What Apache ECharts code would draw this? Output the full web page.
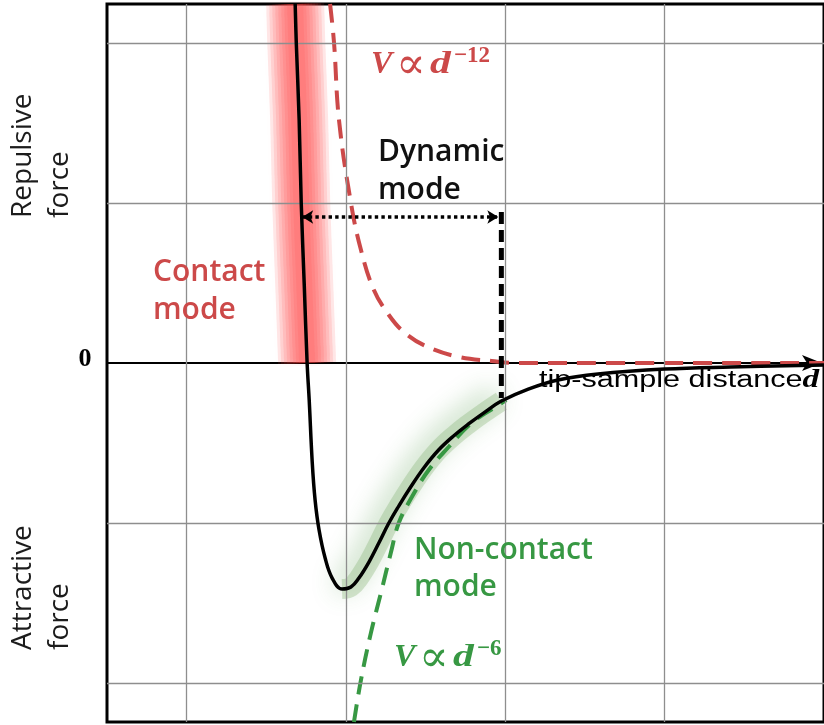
<!DOCTYPE html>
<html>
<head>
<meta charset="utf-8">
<script src="https://cdn.jsdelivr.net/npm/echarts@6/dist/echarts.min.js"></script>
<style>
  html, body { margin: 0; padding: 0; background: #fff; }
  #chart { width: 824px; height: 725px; }
</style>
</head>
<body>
<div id="chart"></div>
<script>
// Tip–sample force vs. distance d (one grid step = one unit of d / F)

// Net (Lennard-Jones type) force
const totalForce = [
  [1.681, 2.244], [1.688, 2.0], [1.706, 1.519], [1.719, 1.0], [1.738, 0.488],
  [1.756, 0], [1.769, -0.231], [1.788, -0.619], [1.806, -0.856], [1.831, -1.044],
  [1.869, -1.219], [1.913, -1.344], [1.975, -1.413], [2.031, -1.4], [2.081, -1.344],
  [2.144, -1.244], [2.206, -1.125], [2.269, -1.0], [2.331, -0.894], [2.406, -0.775],
  [2.488, -0.656], [2.581, -0.544], [2.675, -0.456], [2.769, -0.381], [2.863, -0.313],
  [2.975, -0.238], [3.144, -0.163], [3.331, -0.106], [3.581, -0.069], [4.0, -0.038],
  [4.413, -0.025], [5.0, -0.013]
];

// Repulsive part, V ∝ d^-12
const repulsiveForce = [
  [1.9, 2.244], [1.925, 2.0], [1.956, 1.519], [2.031, 1.0], [2.094, 0.706],
  [2.175, 0.456], [2.269, 0.3], [2.363, 0.194], [2.5, 0.106], [2.706, 0.038],
  [2.913, 0.013], [3.081, 0], [5.0, 0]
];

// Attractive part, V ∝ d^-6
const attractiveForce = [
  [2.05, -2.244], [2.094, -1.981], [2.156, -1.688], [2.219, -1.438], [2.281, -1.188],
  [2.331, -1.0], [2.413, -0.838], [2.519, -0.669], [2.644, -0.525], [2.788, -0.375],
  [2.956, -0.263], [3.006, -0.231]
];

// Grid lines
const gridDistances = [1, 2, 3, 4];
const gridForces = [2, 1, -1, -2];

// Axis extents
const distanceRange = [0.5, 5.0];
const forceRange = [-2.24375, 2.24375];

// Dynamic-mode working range
const dynamicRange = [1.725, 2.956];
const dynamicLevel = 0.9125;
const dynamicLimit = [[2.975, 0.944], [2.975, -0.219]];

// Axis tick labels
const forceTickLabels = ['0'];
const forceSideLabels = ['Repulsive\nforce', 'Attractive\nforce'];
const distanceLabel = 'tip-sample distance';

const ink = '#1c1c1c';
const red = '#cc4949';
const green = '#379843';
const sans = '"Open Sans", "Noto Sans", sans-serif';
const serif = '"Liberation Serif", "DejaVu Serif", serif';

// Repulsive branch of the net force (down to the zero crossing)
const contactZone = totalForce.slice(0, totalForce.findIndex(p => p[1] < -0.05));
// Attractive well up to the dynamic-mode limit
const nonContactZone = totalForce.filter(p => p[0] >= 1.97 && p[0] <= 2.98);

const chart = echarts.init(document.getElementById('chart'), null, { renderer: 'canvas' });

// "V ∝ d⁻ⁿ" set piece by piece: italic V, proportional sign, italic d, raised exponent
function powerLaw(x, y, color, exponent) {
  const italic = { fontFamily: serif, fontStyle: 'italic', fontWeight: 'bold', fontSize: 32, fill: color, verticalAlign: 'middle', align: 'left' };
  return [
    { type: 'text', x: x, y: y, z: 10, style: Object.assign({ text: 'V' }, italic) },
    { type: 'text', x: x + 40, y: y + 2, z: 10,
      style: { text: '∝', fontFamily: '"DejaVu Serif", serif', fontSize: 44, fill: color, align: 'center', verticalAlign: 'middle' } },
    { type: 'text', x: x + 59, y: y, scaleX: 1.3, z: 10, style: Object.assign({ text: 'd' }, italic) },
    { type: 'text', x: x + 83, y: y - 9, z: 10,
      style: { text: exponent, fontFamily: serif, fontWeight: 'bold', fontSize: 23, fill: color, align: 'left', verticalAlign: 'middle' } }
  ];
}

// Soft halo: stacked translucent strokes of shrinking width
function halo(name, data, widths, rgb, alpha, blur) {
  return widths.map((w, i) => ({
    name: name + ' ' + i, type: 'line', data: data, smooth: 0.4, symbol: 'none', z: 2, silent: true,
    lineStyle: { width: w, color: 'rgba(' + rgb + ',' + alpha + ')', shadowBlur: blur, shadowColor: 'rgba(' + rgb + ',' + alpha + ')', cap: 'butt' }
  }));
}

chart.setOption({
  animation: false,
  backgroundColor: '#ffffff',
  grid: {
    left: 107, right: -3, top: 4, bottom: 3,
    show: true, borderColor: '#000', borderWidth: 3, backgroundColor: 'transparent'
  },
  xAxis: {
    type: 'value',
    min: distanceRange[0], max: distanceRange[1],
    axisLine: {
      show: true, onZero: true,
      lineStyle: { color: '#000', width: 2 },
      symbol: ['none', 'arrow'], symbolSize: [12, 20], symbolOffset: [0, -2]
    },
    axisTick: { show: false }, axisLabel: { show: false }, splitLine: { show: false }
  },
  yAxis: {
    type: 'value',
    min: forceRange[0], max: forceRange[1],
    axisLine: { show: false }, axisTick: { show: false },
    axisLabel: { show: false }, splitLine: { show: false }
  },
  series: [
    {
      name: 'grid', type: 'line', data: [], z: 1, silent: true,
      markLine: {
        silent: true, symbol: 'none', label: { show: false },
        lineStyle: { color: '#8e8e8e', width: 1.3, type: 'solid' },
        emphasis: { disabled: true },
        data: gridDistances.map(v => ({ xAxis: v })).concat(gridForces.map(v => ({ yAxis: v })))
      }
    },
    ...halo('contact glow', contactZone, [58, 52, 46, 40, 34, 28, 22, 16], '255,75,75', 0.12, 8),
    {
      name: 'non-contact glow', type: 'line', data: nonContactZone, smooth: 0.4, symbol: 'none', z: 2, silent: true,
      lineStyle: { width: 20, color: 'rgba(120,170,100,0.3)', shadowBlur: 26, shadowColor: 'rgba(60,140,50,0.95)', shadowOffsetX: -5, shadowOffsetY: -6 }
    },
    {
      name: 'repulsive', type: 'line', data: repulsiveForce, smooth: 0.4, symbol: 'none', z: 4, silent: true,
      lineStyle: { width: 4, color: red, type: [19, 10] }
    },
    {
      name: 'attractive', type: 'line', data: attractiveForce, smooth: 0.4, symbol: 'none', z: 4, silent: true,
      lineStyle: { width: 4, color: green, type: [18, 10] }
    },
    {
      name: 'total', type: 'line', data: totalForce, smooth: 0.4, symbol: 'none', z: 5, silent: true,
      lineStyle: { width: 3.5, color: '#000' }
    },
    {
      name: 'dynamic', type: 'line', data: dynamicLimit, symbol: 'none', z: 6, silent: true,
      lineStyle: { width: 5, color: '#000', type: [12, 6] },
      markLine: {
        silent: true, symbol: ['arrow', 'arrow'], symbolSize: [10, 11], label: { show: false },
        emphasis: { disabled: true },
        lineStyle: { color: '#000', width: 3.5, type: [3.4, 3.2] },
        data: [[{ coord: [dynamicRange[0], dynamicLevel] }, { coord: [dynamicRange[1], dynamicLevel] }]]
      }
    }
  ],
  graphic: [
    { type: 'text', x: 42, y: 218, rotation: Math.PI / 2, z: 10,
      style: { text: forceSideLabels[0], fontFamily: sans, fontSize: 28, fill: ink, align: 'left', verticalAlign: 'middle', lineHeight: 37 } },
    { type: 'text', x: 42, y: 650, rotation: Math.PI / 2, z: 10,
      style: { text: forceSideLabels[1], fontFamily: sans, fontSize: 28, fill: ink, align: 'left', verticalAlign: 'middle', lineHeight: 37 } },
    { type: 'text', x: 85, y: 359, z: 10,
      style: { text: forceTickLabels[0], fontFamily: serif, fontWeight: 'bold', fontSize: 26, fill: '#000', align: 'center', verticalAlign: 'middle' } },
    { type: 'text', x: 378, y: 171, z: 10,
      style: { text: 'Dynamic\nmode', fontFamily: sans, fontWeight: 600, fontSize: 30, fill: '#111', align: 'left', verticalAlign: 'middle', lineHeight: 38 } },
    { type: 'text', x: 153, y: 291, z: 10,
      style: { text: 'Contact\nmode', fontFamily: sans, fontWeight: 600, fontSize: 30, fill: red, align: 'left', verticalAlign: 'middle', lineHeight: 38 } },
    { type: 'text', x: 414, y: 569, z: 10,
      style: { text: 'Non-contact\nmode', fontFamily: sans, fontWeight: 600, fontSize: 30, fill: green, align: 'left', verticalAlign: 'middle', lineHeight: 37 } },
    ...powerLaw(371, 65, red, '−12'),
    ...powerLaw(394, 658, green, '−6'),
    { type: 'text', x: 539, y: 381, scaleX: 1.33, z: 10,
      style: {
        text: distanceLabel + '{d|d}', fontFamily: '"Liberation Sans", Arial, sans-serif', fontSize: 23, fill: '#000',
        align: 'left', verticalAlign: 'middle',
        rich: { d: { fontFamily: serif, fontStyle: 'italic', fontWeight: 'bold', fontSize: 25, fill: '#000' } }
      } }
  ]
});
</script>
</body>
</html>
